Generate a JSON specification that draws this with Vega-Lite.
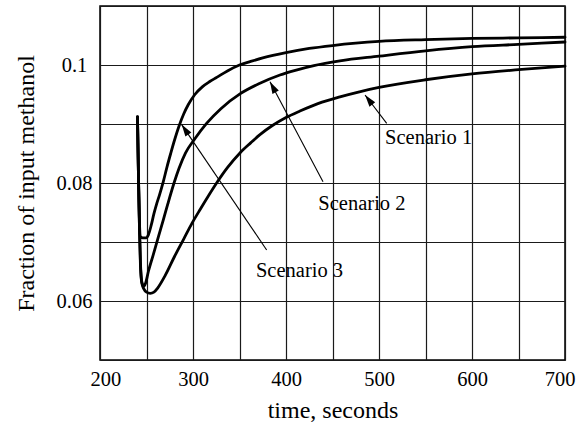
{
  "$schema": "https://vega.github.io/schema/vega-lite/v6.json",
  "width": 465,
  "height": 354,
  "autosize": {"type": "none"},
  "padding": {"left": 100, "top": 6, "right": 21, "bottom": 65},
  "background": "white",
  "config": {
    "font": "Liberation Serif",
    "view": {"stroke": "#000", "strokeWidth": 1.5},
    "axis": {
      "grid": true,
      "gridColor": "#1a1a1a",
      "gridWidth": 1.2,
      "gridOpacity": 1,
      "domain": false,
      "ticks": false,
      "labelFont": "Liberation Serif",
      "labelFontSize": 20.5,
      "labelColor": "#000",
      "labelOverlap": false,
      "titleFont": "Liberation Serif",
      "titleFontSize": 24,
      "titleFontWeight": "normal",
      "titleColor": "#000"
    }
  },
  "datasets": {
    "curves": [
      {"scenario": "Scenario 3", "t": 240.3, "f": 0.0912},
      {"scenario": "Scenario 3", "t": 241.5, "f": 0.0800},
      {"scenario": "Scenario 3", "t": 242.5, "f": 0.0730},
      {"scenario": "Scenario 3", "t": 243.5, "f": 0.0709},
      {"scenario": "Scenario 3", "t": 246, "f": 0.0707},
      {"scenario": "Scenario 3", "t": 250, "f": 0.0707},
      {"scenario": "Scenario 3", "t": 252, "f": 0.0712},
      {"scenario": "Scenario 3", "t": 255, "f": 0.0728},
      {"scenario": "Scenario 3", "t": 258, "f": 0.0748},
      {"scenario": "Scenario 3", "t": 261, "f": 0.0765},
      {"scenario": "Scenario 3", "t": 264, "f": 0.0780},
      {"scenario": "Scenario 3", "t": 268, "f": 0.0802},
      {"scenario": "Scenario 3", "t": 272, "f": 0.0827},
      {"scenario": "Scenario 3", "t": 276, "f": 0.0850},
      {"scenario": "Scenario 3", "t": 280, "f": 0.0872},
      {"scenario": "Scenario 3", "t": 285.3, "f": 0.0898},
      {"scenario": "Scenario 3", "t": 290, "f": 0.0917},
      {"scenario": "Scenario 3", "t": 295, "f": 0.0933},
      {"scenario": "Scenario 3", "t": 302, "f": 0.0950},
      {"scenario": "Scenario 3", "t": 310, "f": 0.0963},
      {"scenario": "Scenario 3", "t": 318, "f": 0.0972},
      {"scenario": "Scenario 3", "t": 325.5, "f": 0.0979},
      {"scenario": "Scenario 3", "t": 337, "f": 0.0990},
      {"scenario": "Scenario 3", "t": 350, "f": 0.1000},
      {"scenario": "Scenario 3", "t": 362, "f": 0.1006},
      {"scenario": "Scenario 3", "t": 375, "f": 0.1012},
      {"scenario": "Scenario 3", "t": 400, "f": 0.1021},
      {"scenario": "Scenario 3", "t": 425, "f": 0.1028},
      {"scenario": "Scenario 3", "t": 450, "f": 0.1033},
      {"scenario": "Scenario 3", "t": 475, "f": 0.1037},
      {"scenario": "Scenario 3", "t": 500, "f": 0.1040},
      {"scenario": "Scenario 3", "t": 550, "f": 0.1043},
      {"scenario": "Scenario 3", "t": 600, "f": 0.1045},
      {"scenario": "Scenario 3", "t": 650, "f": 0.1046},
      {"scenario": "Scenario 3", "t": 700, "f": 0.1047},

      {"scenario": "Scenario 2", "t": 240.3, "f": 0.0912},
      {"scenario": "Scenario 2", "t": 241.5, "f": 0.0800},
      {"scenario": "Scenario 2", "t": 242.5, "f": 0.0720},
      {"scenario": "Scenario 2", "t": 243.5, "f": 0.0665},
      {"scenario": "Scenario 2", "t": 245, "f": 0.0632},
      {"scenario": "Scenario 2", "t": 247, "f": 0.0625},
      {"scenario": "Scenario 2", "t": 249, "f": 0.0630},
      {"scenario": "Scenario 2", "t": 252, "f": 0.0650},
      {"scenario": "Scenario 2", "t": 257, "f": 0.0677},
      {"scenario": "Scenario 2", "t": 263, "f": 0.0710},
      {"scenario": "Scenario 2", "t": 268, "f": 0.0737},
      {"scenario": "Scenario 2", "t": 273, "f": 0.0765},
      {"scenario": "Scenario 2", "t": 279.6, "f": 0.0800},
      {"scenario": "Scenario 2", "t": 285, "f": 0.0825},
      {"scenario": "Scenario 2", "t": 292, "f": 0.0851},
      {"scenario": "Scenario 2", "t": 302, "f": 0.0875},
      {"scenario": "Scenario 2", "t": 314.6, "f": 0.0901},
      {"scenario": "Scenario 2", "t": 330, "f": 0.0926},
      {"scenario": "Scenario 2", "t": 350.5, "f": 0.0951},
      {"scenario": "Scenario 2", "t": 372, "f": 0.0969},
      {"scenario": "Scenario 2", "t": 393.5, "f": 0.0983},
      {"scenario": "Scenario 2", "t": 410, "f": 0.0991},
      {"scenario": "Scenario 2", "t": 430, "f": 0.0999},
      {"scenario": "Scenario 2", "t": 458, "f": 0.1007},
      {"scenario": "Scenario 2", "t": 500, "f": 0.1015},
      {"scenario": "Scenario 2", "t": 550, "f": 0.1024},
      {"scenario": "Scenario 2", "t": 600, "f": 0.1031},
      {"scenario": "Scenario 2", "t": 650, "f": 0.1035},
      {"scenario": "Scenario 2", "t": 700, "f": 0.1039},

      {"scenario": "Scenario 1", "t": 240.3, "f": 0.0912},
      {"scenario": "Scenario 1", "t": 241.5, "f": 0.0800},
      {"scenario": "Scenario 1", "t": 242.5, "f": 0.0720},
      {"scenario": "Scenario 1", "t": 243.5, "f": 0.0660},
      {"scenario": "Scenario 1", "t": 245, "f": 0.0630},
      {"scenario": "Scenario 1", "t": 247, "f": 0.0621},
      {"scenario": "Scenario 1", "t": 250, "f": 0.0615},
      {"scenario": "Scenario 1", "t": 254, "f": 0.0613},
      {"scenario": "Scenario 1", "t": 258, "f": 0.0615},
      {"scenario": "Scenario 1", "t": 262, "f": 0.0622},
      {"scenario": "Scenario 1", "t": 270, "f": 0.0643},
      {"scenario": "Scenario 1", "t": 280, "f": 0.0675},
      {"scenario": "Scenario 1", "t": 290, "f": 0.0705},
      {"scenario": "Scenario 1", "t": 299, "f": 0.0732},
      {"scenario": "Scenario 1", "t": 308, "f": 0.0756},
      {"scenario": "Scenario 1", "t": 316.5, "f": 0.0778},
      {"scenario": "Scenario 1", "t": 325.4, "f": 0.0800},
      {"scenario": "Scenario 1", "t": 337, "f": 0.0826},
      {"scenario": "Scenario 1", "t": 350.5, "f": 0.0851},
      {"scenario": "Scenario 1", "t": 362, "f": 0.0868},
      {"scenario": "Scenario 1", "t": 372, "f": 0.0882},
      {"scenario": "Scenario 1", "t": 385, "f": 0.0897},
      {"scenario": "Scenario 1", "t": 400, "f": 0.0911},
      {"scenario": "Scenario 1", "t": 415, "f": 0.0922},
      {"scenario": "Scenario 1", "t": 435, "f": 0.0935},
      {"scenario": "Scenario 1", "t": 458, "f": 0.0946},
      {"scenario": "Scenario 1", "t": 480, "f": 0.0955},
      {"scenario": "Scenario 1", "t": 500, "f": 0.0962},
      {"scenario": "Scenario 1", "t": 550, "f": 0.0975},
      {"scenario": "Scenario 1", "t": 600, "f": 0.0985},
      {"scenario": "Scenario 1", "t": 650, "f": 0.0992},
      {"scenario": "Scenario 1", "t": 700, "f": 0.0998}
    ],
    "notes": [
      {"label": "Scenario 1", "lx": 506.5, "ly": 0.08653, "tx": 508.3, "ty": 0.09012, "hx": 485.0, "hy": 0.09492},
      {"label": "Scenario 2", "lx": 434.8, "ly": 0.07542, "tx": 439.8, "ty": 0.08022, "hx": 382.8, "hy": 0.09717},
      {"label": "Scenario 3", "lx": 367.7, "ly": 0.06415, "tx": 379.2, "ty": 0.06864, "hx": 287.8, "hy": 0.08990}
    ]
  },
  "layer": [
    {
      "data": {"name": "curves"},
      "mark": {"type": "line", "color": "#000", "strokeWidth": 2.8, "strokeJoin": "round", "strokeCap": "round", "interpolate": "monotone"},
      "encoding": {
        "x": {
          "field": "t", "type": "quantitative", "title": "time, seconds",
          "scale": {"domain": [200, 700], "nice": false, "zero": false},
          "axis": {
            "values": [200, 250, 300, 350, 400, 450, 500, 550, 600, 650, 700],
            "labelExpr": "datum.value % 100 === 0 ? datum.label : ''",
            "labelPadding": 9,
            "labelFlushOffset": 10,
            "titleBaseline": "alphabetic",
            "titleY": 57
          }
        },
        "y": {
          "field": "f", "type": "quantitative", "title": "Fraction of input methanol",
          "scale": {"domain": [0.05, 0.11], "nice": false, "zero": false},
          "axis": {
            "values": [0.05, 0.06, 0.07, 0.08, 0.09, 0.1, 0.11],
            "labelExpr": "(abs(datum.value - 0.06) < 1e-6 || abs(datum.value - 0.08) < 1e-6 || abs(datum.value - 0.1) < 1e-6) ? format(datum.value, '~g') : ''",
            "labelAlign": "center",
            "labelBaseline": "middle",
            "labelPadding": 26,
            "titleBaseline": "alphabetic",
            "titleX": -67,
            "titleY": 177
          }
        },
        "detail": {"field": "scenario"}
      }
    },
    {
      "data": {"name": "notes"},
      "mark": {"type": "rule", "color": "#000", "strokeWidth": 1.1},
      "encoding": {
        "x": {"field": "tx", "type": "quantitative", "title": "time, seconds"},
        "y": {"field": "ty", "type": "quantitative", "title": "Fraction of input methanol"},
        "x2": {"field": "hx"},
        "y2": {"field": "hy"}
      }
    },
    {
      "data": {"name": "notes"},
      "transform": [
        {"calculate": "atan2((datum.hx - datum.tx) * 0.93, (datum.hy - datum.ty) * 5900) * 180 / PI", "as": "heading"}
      ],
      "mark": {"type": "point", "shape": "M0,0L0.6,2L-0.6,2Z", "filled": true, "color": "#000", "opacity": 1, "size": 144, "strokeWidth": 0},
      "encoding": {
        "x": {"field": "hx", "type": "quantitative", "title": "time, seconds"},
        "y": {"field": "hy", "type": "quantitative", "title": "Fraction of input methanol"},
        "angle": {"field": "heading", "type": "quantitative", "scale": null}
      }
    },
    {
      "data": {"name": "notes"},
      "mark": {"type": "text", "align": "left", "baseline": "alphabetic", "font": "Liberation Serif", "fontSize": 20.5, "color": "#000"},
      "encoding": {
        "x": {"field": "lx", "type": "quantitative", "title": "time, seconds"},
        "y": {"field": "ly", "type": "quantitative", "title": "Fraction of input methanol"},
        "text": {"field": "label"}
      }
    }
  ]
}
